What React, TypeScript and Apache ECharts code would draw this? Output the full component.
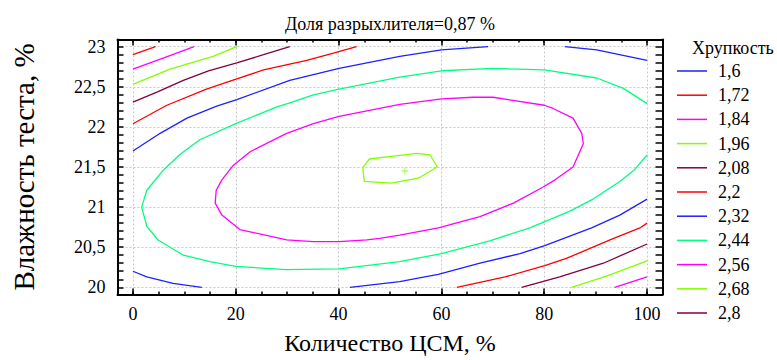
import React, { useEffect, useRef } from "react";
import * as echarts from "echarts";

// ---- axis ticks ----
const X_TICKS = [0, 20, 40, 60, 80, 100];
const X_MINOR = [0, 5, 10, 15, 20, 25, 30, 35, 40, 45, 50, 55, 60, 65, 70, 75, 80, 85, 90, 95, 100];
const Y_TICKS = [20, 20.5, 21, 21.5, 22, 22.5, 23];
const Y_MINOR = Array.from({ length: 31 }, (_, i) => (200 + i) / 10);

// ---- contour levels (legend) ----
const LEVELS = ["1,6", "1,72", "1,84", "1,96", "2,08", "2,2", "2,32", "2,44", "2,56", "2,68", "2,8"];
const LEVEL_COLORS = ["#2020ff", "#ff0000", "#ff00ff", "#80ff00", "#800040", "#ff0000", "#2020ff", "#00ff80", "#ff00ff", "#80ff00", "#800040"];

// ---- contour lines: [Количество ЦСМ, Влажность] ----
const C172_TL = [[0, 22.9], [4.4, 23]];
const C184_TL = [[0, 22.72], [6, 22.86], [11.9, 23]];
const C184_BR = [[93.7, 20], [100, 20.13]];
const C196_TL = [[0, 22.53], [7.2, 22.72], [15.6, 22.88], [20.2, 23]];
const C196_BR = [[85.3, 20], [92.1, 20.14], [100, 20.33]];
const C208_TL = [[0, 22.31], [4.9, 22.44], [9.8, 22.58], [14.7, 22.7], [20.2, 22.8], [25.4, 22.9], [30.5, 23]];
const C208_BR = [[75.6, 20], [83, 20.13], [91.5, 20.3], [100, 20.54]];
const C22_TL = [[0, 22.04], [6.6, 22.27], [14.3, 22.47], [20.2, 22.6], [25.4, 22.71], [33.8, 22.83], [39, 22.92], [43.5, 23]];
const C22_BR = [[63, 20], [72.4, 20.13], [80.1, 20.27], [84.3, 20.36], [92.8, 20.59], [98.6, 20.74], [100, 20.8]];
const C232_TL = [[0, 21.7], [5.3, 21.92], [10.5, 22.11], [16.3, 22.26], [20.2, 22.34], [30.5, 22.58], [40.1, 22.73], [51.9, 22.88], [60, 22.96], [69.1, 23]];
const C232_TR = [[84, 23], [90.2, 22.96], [100, 22.83]];
const C232_BL = [[0, 20.2], [2.7, 20.13], [7.8, 20.05], [13.4, 20]];
const C232_BR = [[42.2, 20], [51.9, 20.07], [55.2, 20.11], [59.4, 20.16], [67.5, 20.3], [75.3, 20.42], [80.1, 20.52], [89.2, 20.74], [94.7, 20.9], [100, 21.1]];
const C244 = [[100, 22.29], [95.4, 22.48], [90.2, 22.61], [80, 22.71], [70, 22.73], [60, 22.7], [51.9, 22.62], [45.5, 22.54], [40.1, 22.47], [35.1, 22.4], [30.5, 22.3], [28, 22.25], [20, 22.04], [13, 21.84], [9.2, 21.66], [5.9, 21.46], [2.7, 21.21], [1.7, 21.0], [2.7, 20.76], [4.9, 20.59], [9.8, 20.4], [15, 20.32], [20, 20.26], [29.9, 20.22], [40.1, 20.23], [51.9, 20.32], [60, 20.42], [69.4, 20.58], [77.2, 20.74], [80.1, 20.82], [85, 20.95], [89.5, 21.1], [94.7, 21.32], [97.6, 21.47], [100, 21.65]];
const C256 = [[17.3, 21.34], [19.5, 21.52], [22.8, 21.69], [29.9, 21.92], [35.1, 22.04], [40.1, 22.13], [51.9, 22.28], [60, 22.35], [66.2, 22.37], [70, 22.37], [80, 22.27], [81.7, 22.23], [85.6, 22.11], [87.3, 21.92], [87.6, 21.79], [85.6, 21.5], [82.1, 21.34], [79.8, 21.25], [74, 21.05], [67.5, 20.88], [59.4, 20.74], [51.9, 20.65], [48, 20.61], [45.5, 20.59], [40.1, 20.57], [35.1, 20.57], [29.9, 20.59], [20.8, 20.72], [17.3, 20.9], [16, 21.05], [16.2, 21.21], [17.3, 21.34]];
const C268 = [[44.7, 21.49], [46, 21.6], [51, 21.64], [55.2, 21.67], [57.8, 21.65], [59.2, 21.5], [55.5, 21.36], [50.3, 21.3], [45, 21.32], [44.7, 21.49]];
const OPTIMUM = [[52.9, 21.45]];

const SEGMENTS: { level: string; points: number[][] }[] = [
  { level: "1,72", points: C172_TL },
  { level: "1,84", points: C184_TL },
  { level: "1,84", points: C184_BR },
  { level: "1,96", points: C196_TL },
  { level: "1,96", points: C196_BR },
  { level: "2,08", points: C208_TL },
  { level: "2,08", points: C208_BR },
  { level: "2,2", points: C22_TL },
  { level: "2,2", points: C22_BR },
  { level: "2,32", points: C232_TL },
  { level: "2,32", points: C232_TR },
  { level: "2,32", points: C232_BL },
  { level: "2,32", points: C232_BR },
  { level: "2,44", points: C244 },
  { level: "2,56", points: C256 },
  { level: "2,68", points: C268 },
];

const FONT = "Liberation Serif";
const fmt = (v: number) => String(v).replace(".", ",");

export default function App() {
  const ref = useRef<HTMLDivElement>(null);
  useEffect(() => {
    if (!ref.current) return;
    const chart = echarts.init(ref.current, undefined, { renderer: "svg" });
    const colorOf = (name: string) => LEVEL_COLORS[LEVELS.indexOf(name)];
    const gridLine = { show: true, lineStyle: { color: "#c8c8c8", width: 1, type: [2, 2] as any } };
    const black = { color: "#000", width: 2 };
    const tickStyle = { color: "#000", width: 1.5 };
    const xBase = { type: "value", min: -3, max: 103, axisLine: { show: false, onZero: false }, axisLabel: { show: false }, splitLine: { show: false } } as any;
    const yBase = { type: "value", min: 19.91, max: 23.09, axisLine: { show: false, onZero: false }, axisLabel: { show: false }, splitLine: { show: false } } as any;

    const series: any[] = [];
    LEVELS.forEach((name) => {
      const segs = SEGMENTS.filter((s) => s.level === name);
      const list = segs.length ? segs : [{ level: name, points: [] }];
      list.forEach((s) => {
        series.push({
          type: "line",
          name,
          data: s.points,
          xAxisIndex: 0,
          yAxisIndex: 0,
          symbol: "none",
          showSymbol: false,
          silent: true,
          lineStyle: { color: colorOf(name), width: 1.3 },
          itemStyle: { color: colorOf(name) },
        });
      });
    });
    series.push({
      type: "scatter",
      name: "optimum",
      data: OPTIMUM,
      xAxisIndex: 0,
      yAxisIndex: 0,
      symbol: "path://M3,0H4V3H7V4H4V7H3V4H0V3H3Z",
      symbolSize: 7,
      silent: true,
      itemStyle: { color: "#80ff00" },
    });

    chart.setOption({
      animation: false,
      grid: { left: 117.5, top: 39.5, width: 545, height: 255.5, containLabel: false },
      graphic: [
        {
          type: "text",
          x: 390,
          y: 24,
          style: { text: "Доля разрыхлителя=0,87 %", fontSize: 18, fontFamily: FONT, fill: "#000", align: "center", verticalAlign: "middle" },
        },
        {
          type: "text",
          x: 692,
          y: 48,
          style: { text: "Хрупкость", fontSize: 18, fontFamily: FONT, fill: "#000", align: "left", verticalAlign: "middle" },
        },
      ],
      legend: {
        orient: "vertical",
        left: 677,
        top: 62,
        padding: 0,
        icon: "rect",
        itemWidth: 30,
        itemHeight: 1.5,
        itemGap: 6.2,
        selectedMode: false,
        data: LEVELS.map((name) => ({ name, itemStyle: { color: colorOf(name) } })),
        textStyle: { fontSize: 18, fontFamily: FONT, color: "#000", lineHeight: 18, padding: [0, 0, 0, 6] },
      },
      xAxis: [
        {
          ...xBase,
          position: "bottom",
          axisLine: { show: true, onZero: false, lineStyle: black },
          axisTick: { show: true, inside: true, length: 6, customValues: X_TICKS, lineStyle: tickStyle },
          axisLabel: { show: true, customValues: X_TICKS, fontSize: 18, fontFamily: FONT, color: "#000", margin: 10, lineHeight: 18 },
          splitLine: gridLine,
          name: "Количество ЦСМ, %",
          nameLocation: "middle",
          nameGap: 36.5,
          nameMoveOverlap: false,
          nameTextStyle: { fontSize: 24, fontFamily: FONT, color: "#000", lineHeight: 24 },
        },
        { ...xBase, position: "bottom", axisTick: { show: true, inside: true, length: 3, customValues: X_MINOR, lineStyle: tickStyle } },
        {
          ...xBase,
          position: "top",
          axisLine: { show: true, onZero: false, lineStyle: black },
          axisTick: { show: true, inside: true, length: 3, customValues: X_MINOR, lineStyle: tickStyle },
        },
        { ...xBase, position: "top", axisTick: { show: true, inside: true, length: 6, customValues: X_TICKS, lineStyle: tickStyle } },
      ],
      yAxis: [
        {
          ...yBase,
          position: "left",
          axisLine: { show: true, onZero: false, lineStyle: black },
          axisTick: { show: false, customValues: Y_TICKS },
          axisLabel: { show: true, customValues: Y_TICKS, formatter: fmt, fontSize: 18, fontFamily: FONT, color: "#000", margin: 12 },
          splitLine: gridLine,
          name: "Влажность теста, %",
          nameLocation: "middle",
          nameGap: 79.5,
          nameMoveOverlap: false,
          nameTextStyle: { fontSize: 29, fontFamily: FONT, color: "#000", lineHeight: 29 },
        },
        { ...yBase, position: "left", axisTick: { show: true, inside: true, length: 6, customValues: Y_MINOR, lineStyle: tickStyle } },
        {
          ...yBase,
          position: "right",
          axisLine: { show: true, onZero: false, lineStyle: black },
          axisTick: { show: true, inside: true, length: 7, customValues: Y_MINOR, lineStyle: tickStyle },
        },
      ],
      series,
    });
    return () => chart.dispose();
  }, []);
  return <div ref={ref} style={{ position: "fixed", left: 0, top: 0, width: 777, height: 360, background: "#fff" }} />;
}
